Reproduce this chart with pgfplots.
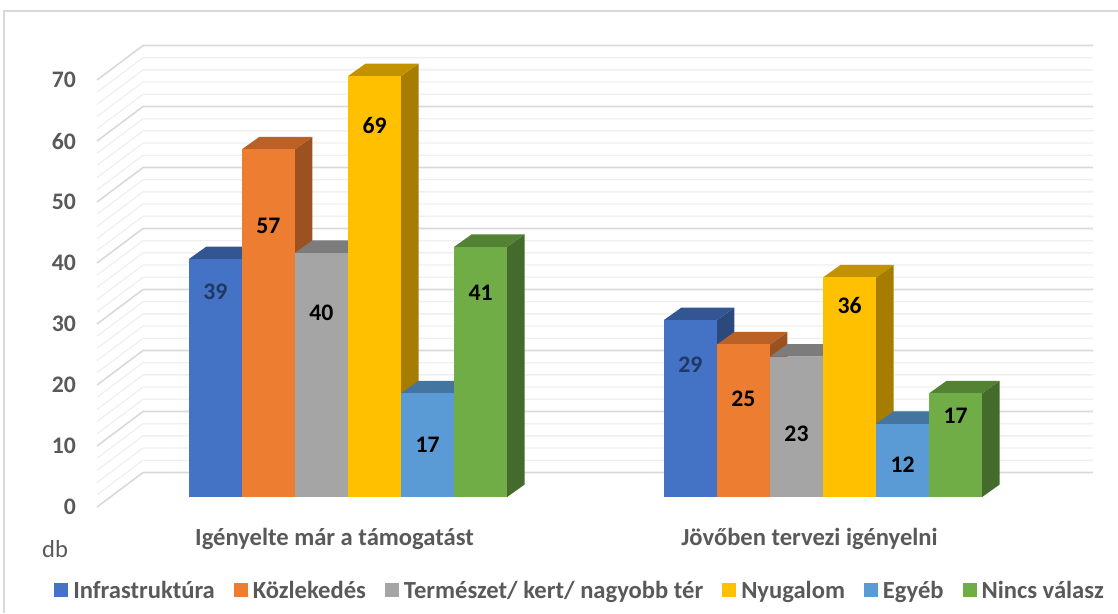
\documentclass[border=0pt]{standalone}
\usepackage{fontspec}
\setmainfont{Carlito}
\usepackage{pgfplots}
\usepackage{pgfplotstable}
\pgfplotsset{compat=1.18}

% series colours: front, top and side faces
\definecolor{c0}{HTML}{4472C4}
\definecolor{c1}{HTML}{ED7D31}
\definecolor{c2}{HTML}{A5A5A5}
\definecolor{c3}{HTML}{FFC000}
\definecolor{c4}{HTML}{5B9BD5}
\definecolor{c5}{HTML}{70AD47}
\colorlet{top0}{c0!75!black}\colorlet{side0}{c0!64!black}
\colorlet{top1}{c1!78!black}\colorlet{side1}{c1!66!black}
\colorlet{top2}{c2!75!black}\colorlet{side2}{c2!68!black}
\colorlet{top3}{c3!76!black}\colorlet{side3}{c3!65!black}
\colorlet{top4}{c4!75!black}\colorlet{side4}{c4!66!black}
\colorlet{top5}{c5!75!black}\colorlet{side5}{c5!62!black}
\definecolor{lab0}{HTML}{203864}
\colorlet{lab1}{black}\colorlet{lab2}{black}\colorlet{lab3}{black}
\colorlet{lab4}{black}\colorlet{lab5}{black}
\definecolor{txt}{HTML}{595959}
\definecolor{gmajor}{HTML}{D9D9D9}
\definecolor{gminor}{HTML}{EFEFEF}

\tikzset{
  major grid/.style={draw=gmajor, line width=1.6pt},
  minor grid/.style={draw=gminor, line width=1.3pt},
}

% g = group, i = series, v = value, ly = height of the value label
\pgfplotstableread{
g i v ly
0 0 39 35.2
0 1 57 46.1
0 2 40 31.8
0 3 69 62.5
0 4 17 10.2
0 5 41 35.1
1 0 29 23.3
1 1 25 17.7
1 2 23 12.0
1 3 36 33.0
1 4 12 7.0
1 5 17 14.9
}\bardata

% bar width, offsets of the bar front, bar depth, wall depth
\def\bw{0.1117}
\def\dxb{0.02845}
\def\dyb{1.64}
\def\ddx{0.03688}
\def\ddy{2.05}
\def\dxF{0.09694}
\def\dyF{5.66}

\newcommand\lblfont{\fontsize{23.7}{28}\selectfont\bfseries}
\newcommand\txtfont{\fontsize{24.6}{29}\selectfont\bfseries}

\newcommand\drawcube[1]{%
  \pgfplotstablegetelem{#1}{g}\of\bardata\let\G\pgfplotsretval
  \pgfplotstablegetelem{#1}{i}\of\bardata\let\I\pgfplotsretval
  \pgfplotstablegetelem{#1}{v}\of\bardata\let\V\pgfplotsretval
  \pgfplotstablegetelem{#1}{ly}\of\bardata\let\LY\pgfplotsretval
  \pgfmathsetmacro\xa{\G-3*\bw+\I*\bw+\dxb}%
  \pgfmathsetmacro\xb{\xa+\bw}%
  \pgfmathsetmacro\xc{\xa+\ddx}%
  \pgfmathsetmacro\xd{\xb+\ddx}%
  \pgfmathsetmacro\xm{\xa+0.5*\bw}%
  \pgfmathsetmacro\ya{\dyb}%
  \pgfmathsetmacro\yb{\dyb+\V}%
  \pgfmathsetmacro\yc{\ya+\ddy}%
  \pgfmathsetmacro\yd{\yb+\ddy}%
  \edef\temp{%
    \noexpand\addplot[draw=none, fill=side\I, mark=none, forget plot]
      coordinates {(\xb,\ya) (\xd,\yc) (\xd,\yd) (\xb,\yb)} -- cycle;
    \noexpand\addplot[draw=none, fill=top\I, mark=none, forget plot]
      coordinates {(\xa,\yb) (\xc,\yd) (\xd,\yd) (\xb,\yb)} -- cycle;
    \noexpand\addplot[draw=none, fill=c\I, mark=none, forget plot]
      coordinates {(\xa,\ya) (\xa,\yb) (\xb,\yb) (\xb,\ya)} -- cycle;
    \noexpand\node[font=\noexpand\lblfont, text=lab\I, inner sep=0pt]
      at (axis cs:\xm,\LY) {\V};
  }\temp
}

\newcommand\gridline[1]{%
  \pgfmathsetmacro\gx{-0.5+\dxF}%
  \pgfmathsetmacro\gxe{1.5+\dxF}%
  \pgfmathsetmacro\gy{#1+\dyF}%
  \pgfmathtruncatemacro\ismajor{mod(#1,10)==0 ? 1 : 0}%
  \ifnum\ismajor=1 \def\gstyle{major grid}\else\def\gstyle{minor grid}\fi
  \edef\temp{%
    \noexpand\addplot[\gstyle, mark=none, forget plot]
      coordinates {(-0.5,#1) (\gx,\gy) (\gxe,\gy)};
  }\temp
}

\begin{document}
\begin{tikzpicture}[x=1pt, y=1pt]
\path[use as bounding box] (0,0) rectangle (1118,613);
% chart frame
\draw[draw=gmajor, line width=1.5pt] (4,0) -- (4,602) -- (1120,602);

\begin{axis}[
  at={(97pt,106pt)}, anchor=south west,
  scale only axis, width=950pt, height=427pt,
  xmin=-0.5, xmax=1.5, ymin=0, ymax=70, clip=false,
  axis line style={draw=none}, major tick length=0pt,
  xtick={0,1},
  xticklabels={Igényelte már a támogatást, Jövőben tervezi igényelni},
  ytick={0,10,...,70},
  xticklabel style={font=\txtfont, text=txt, anchor=base, inner sep=0pt, yshift=-38pt},
  yticklabel style={font=\lblfont, text=txt, anchor=east, inner sep=0pt, xshift=-21pt},
  /pgf/number format/assume math mode=true,
  legend columns=6,
  legend style={at={(0.5074,-0.1967)}, anchor=center, draw=none, fill=none,
    font=\txtfont, text=txt, inner sep=0pt,
    /tikz/every odd column/.append style={column sep=5pt},
    /tikz/every even column/.append style={column sep=19pt},
    nodes={inner sep=0pt}},
  legend image code/.code={\fill[#1] (0pt,-6.5pt) rectangle (14pt,7.5pt);},
]
\pgfplotsforeachungrouped \k in {0,2,...,70} {\gridline{\k}}
\pgfplotsforeachungrouped \k in {0,...,11} {\drawcube{\k}}

\addlegendimage{fill=c0, draw=none}\addlegendentry{Infrastruktúra}
\addlegendimage{fill=c1, draw=none}\addlegendentry{Közlekedés}
\addlegendimage{fill=c2, draw=none}\addlegendentry{Természet/ kert/ nagyobb tér}
\addlegendimage{fill=c3, draw=none}\addlegendentry{Nyugalom}
\addlegendimage{fill=c4, draw=none}\addlegendentry{Egyéb}
\addlegendimage{fill=c5, draw=none}\addlegendentry{Nincs válasz}
\end{axis}

\node[anchor=base west, font=\fontsize{24.6}{29}\selectfont, text=txt, inner sep=0pt] at (42,56) {db};
\end{tikzpicture}
\end{document}
